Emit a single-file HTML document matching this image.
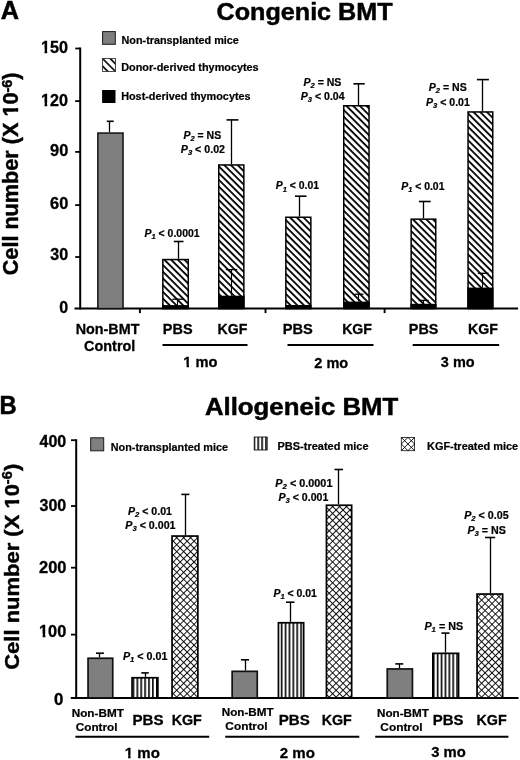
<!DOCTYPE html><html><head><meta charset="utf-8"><style>html,body{margin:0;padding:0;background:#fff;}svg{display:block;filter:grayscale(1)}</style></head><body>
<svg width="520" height="760" viewBox="0 0 520 760" font-family='"Liberation Sans", sans-serif'>
<defs>
<pattern id="hatch" patternUnits="userSpaceOnUse" width="4.75" height="4.75" patternTransform="rotate(45)">
<rect width="4.75" height="4.75" fill="#fff"/><rect y="0" width="4.75" height="1.8" fill="#000"/></pattern>
<pattern id="hatchL" patternUnits="userSpaceOnUse" width="5.4" height="5.4" patternTransform="translate(102,58) rotate(45)">
<rect width="5.4" height="5.4" fill="#fff"/><rect y="-0.8" width="5.4" height="1.6" fill="#000"/><rect y="4.6" width="5.4" height="1.6" fill="#000"/></pattern>
<pattern id="cross" patternUnits="userSpaceOnUse" width="4.9" height="4.9" patternTransform="rotate(45)">
<rect width="4.9" height="4.9" fill="#fff"/><rect y="0" width="4.9" height="0.9" fill="#000"/><rect x="0" width="0.9" height="4.9" fill="#000"/></pattern>
<pattern id="crossL" patternUnits="userSpaceOnUse" width="4.88" height="4.88" patternTransform="translate(401,437.1) rotate(45)">
<rect width="4.88" height="4.88" fill="#fff"/><rect y="-0.5" width="4.88" height="1" fill="#000"/><rect y="4.38" width="4.88" height="1" fill="#000"/><rect x="-0.5" width="1" height="4.88" fill="#000"/><rect x="4.38" width="1" height="4.88" fill="#000"/></pattern>
<pattern id="vert" patternUnits="userSpaceOnUse" width="3.9" height="10">
<rect width="3.9" height="10" fill="#fff"/><rect x="0" width="1.6" height="10" fill="#000"/></pattern>
</defs>
<rect width="520" height="760" fill="#fff"/>
<line x1="80.2" y1="47.6" x2="80.2" y2="309.6" stroke="#000" stroke-width="2"/>
<line x1="74.5" y1="308.6" x2="518" y2="308.6" stroke="#000" stroke-width="2"/>
<line x1="75.2" y1="48.5" x2="80.2" y2="48.5" stroke="#000" stroke-width="1.8"/>
<line x1="75.2" y1="101.1" x2="80.2" y2="101.1" stroke="#000" stroke-width="1.8"/>
<line x1="75.2" y1="151.9" x2="80.2" y2="151.9" stroke="#000" stroke-width="1.8"/>
<line x1="75.2" y1="205.1" x2="80.2" y2="205.1" stroke="#000" stroke-width="1.8"/>
<line x1="75.2" y1="257" x2="80.2" y2="257" stroke="#000" stroke-width="1.8"/>
<line x1="139.9" y1="308.6" x2="139.9" y2="313.1" stroke="#000" stroke-width="1.9"/>
<line x1="265.5" y1="308.6" x2="265.5" y2="313.1" stroke="#000" stroke-width="1.9"/>
<line x1="384.6" y1="308.6" x2="384.6" y2="313.1" stroke="#000" stroke-width="1.9"/>
<rect x="102.6" y="31.6" width="12.7" height="12.7" fill="#7f7f7f" stroke="#1a1a1a" stroke-width="1"/>
<rect x="102.4" y="58.6" width="13.2" height="12.8" fill="url(#hatchL)" stroke="#222" stroke-width="0.8"/>
<rect x="102.1" y="90" width="13.4" height="13" fill="#000"/>
<rect x="97.85" y="133.05" width="25.20" height="175.55" fill="#7f7f7f" stroke="#111" stroke-width="1.5"/>
<line x1="109.50" y1="132.3" x2="109.50" y2="121.3" stroke="#000" stroke-width="1.3"/>
<line x1="106.8" y1="121.3" x2="113.7" y2="121.3" stroke="#000" stroke-width="1.6"/>
<rect x="162.85" y="259.55" width="25.40" height="49.05" fill="url(#hatch)" stroke="#000" stroke-width="1.5"/>
<rect x="162.1" y="305.1" width="26.9" height="3.5" fill="#000"/>
<line x1="177.50" y1="305.1" x2="177.50" y2="299.2" stroke="#000" stroke-width="1.1"/>
<line x1="172.4" y1="299.2" x2="183.4" y2="299.2" stroke="#000" stroke-width="1.3"/>
<line x1="178.50" y1="258.8" x2="178.50" y2="241.5" stroke="#000" stroke-width="1.3"/>
<line x1="173.8" y1="241.5" x2="183.5" y2="241.5" stroke="#000" stroke-width="1.6"/>
<rect x="218.75" y="164.95" width="25.10" height="143.65" fill="url(#hatch)" stroke="#000" stroke-width="1.5"/>
<rect x="218.0" y="295.7" width="26.6" height="13" fill="#000"/>
<line x1="231.50" y1="295.7" x2="231.50" y2="269.6" stroke="#000" stroke-width="1.1"/>
<line x1="225.8" y1="269.6" x2="237.3" y2="269.6" stroke="#000" stroke-width="1.3"/>
<line x1="231.50" y1="164.2" x2="231.50" y2="119.9" stroke="#000" stroke-width="1.3"/>
<line x1="226.5" y1="119.9" x2="238.5" y2="119.9" stroke="#000" stroke-width="1.6"/>
<rect x="285.85" y="217.25" width="25.00" height="91.35" fill="url(#hatch)" stroke="#000" stroke-width="1.5"/>
<rect x="285.1" y="305" width="26.5" height="3.5" fill="#000"/>
<line x1="299.50" y1="216.5" x2="299.50" y2="196.2" stroke="#000" stroke-width="1.3"/>
<line x1="295" y1="196.2" x2="306.5" y2="196.2" stroke="#000" stroke-width="1.6"/>
<rect x="343.75" y="105.75" width="25.30" height="202.85" fill="url(#hatch)" stroke="#000" stroke-width="1.5"/>
<rect x="343.0" y="301.6" width="26.8" height="7" fill="#000"/>
<line x1="358.50" y1="301.6" x2="358.50" y2="294.2" stroke="#000" stroke-width="1.1"/>
<line x1="354.5" y1="294.2" x2="363.5" y2="294.2" stroke="#000" stroke-width="1.3"/>
<line x1="358.50" y1="105" x2="358.50" y2="83.8" stroke="#000" stroke-width="1.3"/>
<line x1="353.4" y1="83.8" x2="364.7" y2="83.8" stroke="#000" stroke-width="1.6"/>
<rect x="411.15" y="219.15" width="24.60" height="89.45" fill="url(#hatch)" stroke="#000" stroke-width="1.5"/>
<rect x="410.4" y="303.8" width="26.1" height="5" fill="#000"/>
<line x1="423.50" y1="303.8" x2="423.50" y2="300.4" stroke="#000" stroke-width="1.1"/>
<line x1="418.8" y1="300.4" x2="428.6" y2="300.4" stroke="#000" stroke-width="1.3"/>
<line x1="423.50" y1="218.4" x2="423.50" y2="201.5" stroke="#000" stroke-width="1.3"/>
<line x1="418.9" y1="201.5" x2="430.7" y2="201.5" stroke="#000" stroke-width="1.6"/>
<rect x="468.05" y="111.95" width="24.70" height="196.65" fill="url(#hatch)" stroke="#000" stroke-width="1.5"/>
<rect x="467.3" y="287.6" width="26.2" height="21" fill="#000"/>
<line x1="482.50" y1="287.6" x2="482.50" y2="273.3" stroke="#000" stroke-width="1.1"/>
<line x1="477.8" y1="273.3" x2="488.6" y2="273.3" stroke="#000" stroke-width="1.3"/>
<line x1="482.50" y1="111.2" x2="482.50" y2="79.6" stroke="#000" stroke-width="1.3"/>
<line x1="476.9" y1="79.6" x2="488.9" y2="79.6" stroke="#000" stroke-width="1.6"/>
<line x1="162.5" y1="345" x2="247.5" y2="345" stroke="#000" stroke-width="2"/>
<line x1="287.5" y1="345" x2="373.5" y2="345" stroke="#000" stroke-width="2"/>
<line x1="412.7" y1="345" x2="499.2" y2="345" stroke="#000" stroke-width="2"/>
<line x1="76.2" y1="439.2" x2="76.2" y2="698.9" stroke="#000" stroke-width="2"/>
<line x1="70.8" y1="697.9" x2="518.5" y2="697.9" stroke="#000" stroke-width="2"/>
<line x1="71.0" y1="440.2" x2="76.2" y2="440.2" stroke="#000" stroke-width="1.8"/>
<line x1="71.0" y1="506" x2="76.2" y2="506" stroke="#000" stroke-width="1.8"/>
<line x1="71.0" y1="567.7" x2="76.2" y2="567.7" stroke="#000" stroke-width="1.8"/>
<line x1="71.0" y1="634.6" x2="76.2" y2="634.6" stroke="#000" stroke-width="1.8"/>
<rect x="90.7" y="437.8" width="13" height="13" fill="#7f7f7f" stroke="#1a1a1a" stroke-width="1"/>
<rect x="254.2" y="437" width="13" height="13" fill="url(#vert)" stroke="#000" stroke-width="0.8"/>
<rect x="401.3" y="437.4" width="13.3" height="13.3" fill="#fff" stroke="#111" stroke-width="0.8"/>
<line x1="401.30" y1="437.40" x2="414.60" y2="450.70" stroke="#000" stroke-width="0.9"/>
<line x1="414.60" y1="437.40" x2="401.30" y2="450.70" stroke="#000" stroke-width="0.9"/>
<line x1="407.95" y1="437.40" x2="414.60" y2="444.05" stroke="#000" stroke-width="0.9"/>
<line x1="414.60" y1="444.05" x2="407.95" y2="450.70" stroke="#000" stroke-width="0.9"/>
<line x1="407.95" y1="450.70" x2="401.30" y2="444.05" stroke="#000" stroke-width="0.9"/>
<line x1="401.30" y1="444.05" x2="407.95" y2="437.40" stroke="#000" stroke-width="0.9"/>
<rect x="88.05" y="658.25" width="24.70" height="39.65" fill="#7f7f7f" stroke="#111" stroke-width="1.7"/>
<line x1="99.50" y1="657.4" x2="99.50" y2="653.2" stroke="#000" stroke-width="1.3"/>
<line x1="96" y1="653.2" x2="103.9" y2="653.2" stroke="#000" stroke-width="1.6"/>
<rect x="132.05" y="677.75" width="25.80" height="20.15" fill="url(#vert)" stroke="#000" stroke-width="1.7"/>
<line x1="145.50" y1="676.9" x2="145.50" y2="672.9" stroke="#000" stroke-width="1.3"/>
<line x1="141.3" y1="672.9" x2="148.8" y2="672.9" stroke="#000" stroke-width="1.6"/>
<rect x="172.05" y="536.05" width="25.80" height="161.85" fill="url(#cross)" stroke="#000" stroke-width="1.7"/>
<line x1="185.50" y1="535.2" x2="185.50" y2="494.4" stroke="#000" stroke-width="1.3"/>
<line x1="181.3" y1="494.4" x2="189.4" y2="494.4" stroke="#000" stroke-width="1.6"/>
<rect x="232.15" y="671.35" width="25.10" height="26.55" fill="#7f7f7f" stroke="#111" stroke-width="1.7"/>
<line x1="245.50" y1="670.5" x2="245.50" y2="659.8" stroke="#000" stroke-width="1.3"/>
<line x1="241" y1="659.8" x2="249" y2="659.8" stroke="#000" stroke-width="1.6"/>
<rect x="278.45" y="622.75" width="25.20" height="75.15" fill="url(#vert)" stroke="#000" stroke-width="1.7"/>
<line x1="290.50" y1="621.9" x2="290.50" y2="602.2" stroke="#000" stroke-width="1.3"/>
<line x1="286" y1="602.2" x2="294.5" y2="602.2" stroke="#000" stroke-width="1.6"/>
<rect x="326.45" y="505.25" width="25.20" height="192.65" fill="url(#cross)" stroke="#000" stroke-width="1.7"/>
<line x1="338.50" y1="504.4" x2="338.50" y2="469.5" stroke="#000" stroke-width="1.3"/>
<line x1="334.5" y1="469.5" x2="343" y2="469.5" stroke="#000" stroke-width="1.6"/>
<rect x="387.25" y="668.95" width="25.20" height="28.95" fill="#7f7f7f" stroke="#111" stroke-width="1.7"/>
<line x1="399.50" y1="668.1" x2="399.50" y2="663.9" stroke="#000" stroke-width="1.3"/>
<line x1="395.3" y1="663.9" x2="403.3" y2="663.9" stroke="#000" stroke-width="1.6"/>
<rect x="432.85" y="653.35" width="25.70" height="44.55" fill="url(#vert)" stroke="#000" stroke-width="1.7"/>
<line x1="445.50" y1="652.5" x2="445.50" y2="633.1" stroke="#000" stroke-width="1.3"/>
<line x1="441.4" y1="633.1" x2="449.5" y2="633.1" stroke="#000" stroke-width="1.6"/>
<rect x="477.05" y="594.05" width="25.60" height="103.85" fill="url(#cross)" stroke="#000" stroke-width="1.7"/>
<line x1="490.50" y1="593.2" x2="490.50" y2="537.5" stroke="#000" stroke-width="1.3"/>
<line x1="485" y1="537.5" x2="495.2" y2="537.5" stroke="#000" stroke-width="1.6"/>
<line x1="75.4" y1="736.8" x2="209.2" y2="736.8" stroke="#000" stroke-width="2"/>
<line x1="225.2" y1="736.8" x2="359.3" y2="736.8" stroke="#000" stroke-width="2"/>
<line x1="375.2" y1="736.8" x2="508.4" y2="736.8" stroke="#000" stroke-width="2"/>
<g transform="translate(0.65,18.65) scale(0.9915,1)"><text font-size="25.5" font-weight="bold" stroke="#000" stroke-width="0.510">A</text></g>
<g transform="translate(216.51,19.75) scale(1.0487,1)"><text font-size="24" font-weight="bold" stroke="#000" stroke-width="0.480">Congenic BMT</text></g>
<g transform="translate(40.94,52.55) scale(1.0118,1)"><text font-size="16" font-weight="bold" stroke="#000" stroke-width="0.320">150</text><rect x="-0.32" y="-3.20" width="3.87" height="4.80" fill="#fff"/><rect x="6.21" y="-3.20" width="2.72" height="4.80" fill="#fff"/></g>
<g transform="translate(40.94,105.65) scale(1.0118,1)"><text font-size="16" font-weight="bold" stroke="#000" stroke-width="0.320">120</text><rect x="-0.32" y="-3.20" width="3.87" height="4.80" fill="#fff"/><rect x="6.21" y="-3.20" width="2.72" height="4.80" fill="#fff"/></g>
<g transform="translate(50.09,156.45) scale(1.0209,1)"><text font-size="16" font-weight="bold" stroke="#000" stroke-width="0.320">90</text></g>
<g transform="translate(50.09,209.45) scale(1.0209,1)"><text font-size="16" font-weight="bold" stroke="#000" stroke-width="0.320">60</text></g>
<g transform="translate(50.35,260.45) scale(1.0059,1)"><text font-size="16" font-weight="bold" stroke="#000" stroke-width="0.320">30</text></g>
<g transform="translate(59.30,313.35) scale(1.0000,1)"><text font-size="16" font-weight="bold" stroke="#000" stroke-width="0.320">0</text></g>
<g transform="translate(121.48,44.45) scale(1.0332,1)"><text font-size="10.5" font-weight="bold" stroke="#000" stroke-width="0.210">Non-transplanted mice</text></g>
<g transform="translate(121.18,70.95) scale(1.0344,1)"><text font-size="10.5" font-weight="bold" stroke="#000" stroke-width="0.210">Donor-derived thymocytes</text></g>
<g transform="translate(121.18,99.75) scale(1.0333,1)"><text font-size="10.5" font-weight="bold" stroke="#000" stroke-width="0.210">Host-derived thymocytes</text></g>
<g transform="translate(144.50,236.90) scale(0.9778,1)"><text font-size="10.7" font-weight="bold" stroke="#000" stroke-width="0.214"><tspan font-style="italic">P</tspan><tspan font-style="italic" font-size="7.70" dy="2.14">1</tspan><tspan dy="-2.14"> &lt; 0.0001</tspan></text></g>
<g transform="translate(183.50,138.70) scale(0.9804,1)"><text font-size="10.7" font-weight="bold" stroke="#000" stroke-width="0.214"><tspan font-style="italic">P</tspan><tspan font-style="italic" font-size="7.70" dy="2.14">2</tspan><tspan dy="-2.14"> = NS</tspan></text></g>
<g transform="translate(180.80,152.50) scale(0.9955,1)"><text font-size="10.7" font-weight="bold" stroke="#000" stroke-width="0.214"><tspan font-style="italic">P</tspan><tspan font-style="italic" font-size="7.70" dy="2.14">3</tspan><tspan dy="-2.14"> &lt; 0.02</tspan></text></g>
<g transform="translate(275.80,189.40) scale(0.9718,1)"><text font-size="10.7" font-weight="bold" stroke="#000" stroke-width="0.214"><tspan font-style="italic">P</tspan><tspan font-style="italic" font-size="7.70" dy="2.14">1</tspan><tspan dy="-2.14"> &lt; 0.01</tspan></text></g>
<g transform="translate(303.50,86.00) scale(0.9856,1)"><text font-size="10.7" font-weight="bold" stroke="#000" stroke-width="0.214"><tspan font-style="italic">P</tspan><tspan font-style="italic" font-size="7.70" dy="2.14">2</tspan><tspan dy="-2.14"> = NS</tspan></text></g>
<g transform="translate(300.80,100.30) scale(0.9843,1)"><text font-size="10.7" font-weight="bold" stroke="#000" stroke-width="0.214"><tspan font-style="italic">P</tspan><tspan font-style="italic" font-size="7.70" dy="2.14">3</tspan><tspan dy="-2.14"> &lt; 0.04</tspan></text></g>
<g transform="translate(401.20,189.90) scale(0.9740,1)"><text font-size="10.7" font-weight="bold" stroke="#000" stroke-width="0.214"><tspan font-style="italic">P</tspan><tspan font-style="italic" font-size="7.70" dy="2.14">1</tspan><tspan dy="-2.14"> &lt; 0.01</tspan></text></g>
<g transform="translate(428.80,90.50) scale(0.9856,1)"><text font-size="10.7" font-weight="bold" stroke="#000" stroke-width="0.214"><tspan font-style="italic">P</tspan><tspan font-style="italic" font-size="7.70" dy="2.14">2</tspan><tspan dy="-2.14"> = NS</tspan></text></g>
<g transform="translate(426.00,106.30) scale(0.9876,1)"><text font-size="10.7" font-weight="bold" stroke="#000" stroke-width="0.214"><tspan font-style="italic">P</tspan><tspan font-style="italic" font-size="7.70" dy="2.14">3</tspan><tspan dy="-2.14"> &lt; 0.01</tspan></text></g>
<g transform="translate(75.73,333.65) scale(1.0244,1)"><text font-size="14" font-weight="bold" stroke="#000" stroke-width="0.280">Non-BMT</text></g>
<g transform="translate(84.08,351.45) scale(1.0309,1)"><text font-size="14" font-weight="bold" stroke="#000" stroke-width="0.280">Control</text></g>
<g transform="translate(162.82,333.70) scale(1.0364,1)"><text font-size="14" font-weight="bold" stroke="#000" stroke-width="0.280">PBS</text></g>
<g transform="translate(217.44,333.80) scale(1.0105,1)"><text font-size="14" font-weight="bold" stroke="#000" stroke-width="0.280">KGF</text></g>
<g transform="translate(282.71,333.80) scale(1.0473,1)"><text font-size="14" font-weight="bold" stroke="#000" stroke-width="0.280">PBS</text></g>
<g transform="translate(342.14,333.80) scale(1.0105,1)"><text font-size="14" font-weight="bold" stroke="#000" stroke-width="0.280">KGF</text></g>
<g transform="translate(408.83,333.70) scale(1.0291,1)"><text font-size="14" font-weight="bold" stroke="#000" stroke-width="0.280">PBS</text></g>
<g transform="translate(468.04,333.70) scale(1.0140,1)"><text font-size="14" font-weight="bold" stroke="#000" stroke-width="0.280">KGF</text></g>
<g transform="translate(183.31,367.45) scale(1.0476,1)"><text font-size="14" font-weight="bold" stroke="#000" stroke-width="0.280">1 mo</text><rect x="-0.28" y="-2.80" width="3.39" height="4.20" fill="#fff"/><rect x="5.43" y="-2.80" width="2.38" height="4.20" fill="#fff"/></g>
<g transform="translate(314.34,367.70) scale(1.0375,1)"><text font-size="14" font-weight="bold" stroke="#000" stroke-width="0.280">2 mo</text></g>
<g transform="translate(440.84,367.20) scale(1.0344,1)"><text font-size="14" font-weight="bold" stroke="#000" stroke-width="0.280">3 mo</text></g>
<g transform="translate(-0.40,413.55) scale(0.9313,1)"><text font-size="25.5" font-weight="bold" stroke="#000" stroke-width="0.510">B</text></g>
<g transform="translate(204.93,414.65) scale(1.0743,1)"><text font-size="24" font-weight="bold" stroke="#000" stroke-width="0.480">Allogeneic BMT</text></g>
<g transform="translate(39.50,447.25) scale(1.0019,1)"><text font-size="16" font-weight="bold" stroke="#000" stroke-width="0.320">400</text></g>
<g transform="translate(39.55,511.05) scale(1.0000,1)"><text font-size="16" font-weight="bold" stroke="#000" stroke-width="0.320">300</text></g>
<g transform="translate(38.99,573.45) scale(1.0291,1)"><text font-size="16" font-weight="bold" stroke="#000" stroke-width="0.320">200</text></g>
<g transform="translate(39.04,636.85) scale(1.0196,1)"><text font-size="16" font-weight="bold" stroke="#000" stroke-width="0.320">100</text><rect x="-0.32" y="-3.20" width="3.87" height="4.80" fill="#fff"/><rect x="6.21" y="-3.20" width="2.72" height="4.80" fill="#fff"/></g>
<g transform="translate(53.88,705.35) scale(1.0500,1)"><text font-size="16" font-weight="bold" stroke="#000" stroke-width="0.320">0</text></g>
<g transform="translate(110.78,450.65) scale(1.0319,1)"><text font-size="10.5" font-weight="bold" stroke="#000" stroke-width="0.210">Non-transplanted mice</text></g>
<g transform="translate(277.48,450.45) scale(1.0481,1)"><text font-size="10.5" font-weight="bold" stroke="#000" stroke-width="0.210">PBS-treated mice</text></g>
<g transform="translate(426.98,450.25) scale(1.0432,1)"><text font-size="10.5" font-weight="bold" stroke="#000" stroke-width="0.210">KGF-treated mice</text></g>
<g transform="translate(122.90,659.60) scale(1.0034,1)"><text font-size="10.7" font-weight="bold" stroke="#000" stroke-width="0.214"><tspan font-style="italic">P</tspan><tspan font-style="italic" font-size="7.70" dy="2.14">1</tspan><tspan dy="-2.14"> &lt; 0.01</tspan></text></g>
<g transform="translate(128.00,514.80) scale(0.9898,1)"><text font-size="10.7" font-weight="bold" stroke="#000" stroke-width="0.214"><tspan font-style="italic">P</tspan><tspan font-style="italic" font-size="7.70" dy="2.14">2</tspan><tspan dy="-2.14"> &lt; 0.01</tspan></text></g>
<g transform="translate(125.30,528.90) scale(0.9970,1)"><text font-size="10.7" font-weight="bold" stroke="#000" stroke-width="0.214"><tspan font-style="italic">P</tspan><tspan font-style="italic" font-size="7.70" dy="2.14">3</tspan><tspan dy="-2.14"> &lt; 0.001</tspan></text></g>
<g transform="translate(273.40,597.00) scale(0.9785,1)"><text font-size="10.7" font-weight="bold" stroke="#000" stroke-width="0.214"><tspan font-style="italic">P</tspan><tspan font-style="italic" font-size="7.70" dy="2.14">1</tspan><tspan dy="-2.14"> &lt; 0.01</tspan></text></g>
<g transform="translate(275.30,486.50) scale(1.0151,1)"><text font-size="10.7" font-weight="bold" stroke="#000" stroke-width="0.214"><tspan font-style="italic">P</tspan><tspan font-style="italic" font-size="7.70" dy="2.14">2</tspan><tspan dy="-2.14"> &lt; 0.0001</tspan></text></g>
<g transform="translate(278.50,500.90) scale(0.9891,1)"><text font-size="10.7" font-weight="bold" stroke="#000" stroke-width="0.214"><tspan font-style="italic">P</tspan><tspan font-style="italic" font-size="7.70" dy="2.14">3</tspan><tspan dy="-2.14"> &lt; 0.001</tspan></text></g>
<g transform="translate(424.40,629.80) scale(1.0065,1)"><text font-size="10.7" font-weight="bold" stroke="#000" stroke-width="0.214"><tspan font-style="italic">P</tspan><tspan font-style="italic" font-size="7.70" dy="2.14">1</tspan><tspan dy="-2.14"> = NS</tspan></text></g>
<g transform="translate(464.20,519.30) scale(1.0011,1)"><text font-size="10.7" font-weight="bold" stroke="#000" stroke-width="0.214"><tspan font-style="italic">P</tspan><tspan font-style="italic" font-size="7.70" dy="2.14">2</tspan><tspan dy="-2.14"> &lt; 0.05</tspan></text></g>
<g transform="translate(467.40,533.70) scale(1.0013,1)"><text font-size="10.7" font-weight="bold" stroke="#000" stroke-width="0.214"><tspan font-style="italic">P</tspan><tspan font-style="italic" font-size="7.70" dy="2.14">3</tspan><tspan dy="-2.14"> = NS</tspan></text></g>
<g transform="translate(71.72,716.50) scale(1.0674,1)"><text font-size="11" font-weight="bold" stroke="#000" stroke-width="0.220">Non-BMT</text></g>
<g transform="translate(75.73,730.50) scale(1.0693,1)"><text font-size="11" font-weight="bold" stroke="#000" stroke-width="0.220">Control</text></g>
<g transform="translate(132.39,724.80) scale(1.0800,1)"><text font-size="14" font-weight="bold" stroke="#000" stroke-width="0.280">PBS</text></g>
<g transform="translate(171.63,724.80) scale(1.0211,1)"><text font-size="14" font-weight="bold" stroke="#000" stroke-width="0.280">KGF</text></g>
<g transform="translate(221.72,716.25) scale(1.0622,1)"><text font-size="11" font-weight="bold" stroke="#000" stroke-width="0.220">Non-BMT</text></g>
<g transform="translate(225.33,730.25) scale(1.0797,1)"><text font-size="11" font-weight="bold" stroke="#000" stroke-width="0.220">Control</text></g>
<g transform="translate(278.79,724.80) scale(1.0800,1)"><text font-size="14" font-weight="bold" stroke="#000" stroke-width="0.280">PBS</text></g>
<g transform="translate(321.63,724.80) scale(1.0211,1)"><text font-size="14" font-weight="bold" stroke="#000" stroke-width="0.280">KGF</text></g>
<g transform="translate(376.97,716.50) scale(1.0622,1)"><text font-size="11" font-weight="bold" stroke="#000" stroke-width="0.220">Non-BMT</text></g>
<g transform="translate(380.33,730.50) scale(1.0797,1)"><text font-size="11" font-weight="bold" stroke="#000" stroke-width="0.220">Control</text></g>
<g transform="translate(432.70,725.10) scale(1.0691,1)"><text font-size="14" font-weight="bold" stroke="#000" stroke-width="0.280">PBS</text></g>
<g transform="translate(476.53,725.10) scale(1.0211,1)"><text font-size="14" font-weight="bold" stroke="#000" stroke-width="0.280">KGF</text></g>
<g transform="translate(124.80,757.65) scale(1.0730,1)"><text font-size="14" font-weight="bold" stroke="#000" stroke-width="0.280">1 mo</text><rect x="-0.28" y="-2.80" width="3.39" height="4.20" fill="#fff"/><rect x="5.43" y="-2.80" width="2.38" height="4.20" fill="#fff"/></g>
<g transform="translate(279.73,757.90) scale(1.0750,1)"><text font-size="14" font-weight="bold" stroke="#000" stroke-width="0.280">2 mo</text></g>
<g transform="translate(431.14,757.40) scale(1.0594,1)"><text font-size="14" font-weight="bold" stroke="#000" stroke-width="0.280">3 mo</text></g>
<g transform="translate(18.46,275.27) rotate(-90) scale(1.0310,1.0095)"><text font-size="21" font-weight="bold" stroke="#000" stroke-width="0.420">Cell number (X 10<tspan font-size="14" dy="-6.5">-6</tspan><tspan dy="6.5">)</tspan></text><rect x="153.60" y="-4.20" width="5.08" height="6.30" fill="#fff"/><rect x="162.17" y="-4.20" width="3.57" height="6.30" fill="#fff"/></g>
<g transform="translate(18.54,669.79) rotate(-90) scale(1.0474,0.9905)"><text font-size="21" font-weight="bold" stroke="#000" stroke-width="0.420">Cell number (X 10<tspan font-size="14" dy="-6.5">-6</tspan><tspan dy="6.5">)</tspan></text><rect x="153.60" y="-4.20" width="5.08" height="6.30" fill="#fff"/><rect x="162.17" y="-4.20" width="3.57" height="6.30" fill="#fff"/></g>
</svg></body></html>
